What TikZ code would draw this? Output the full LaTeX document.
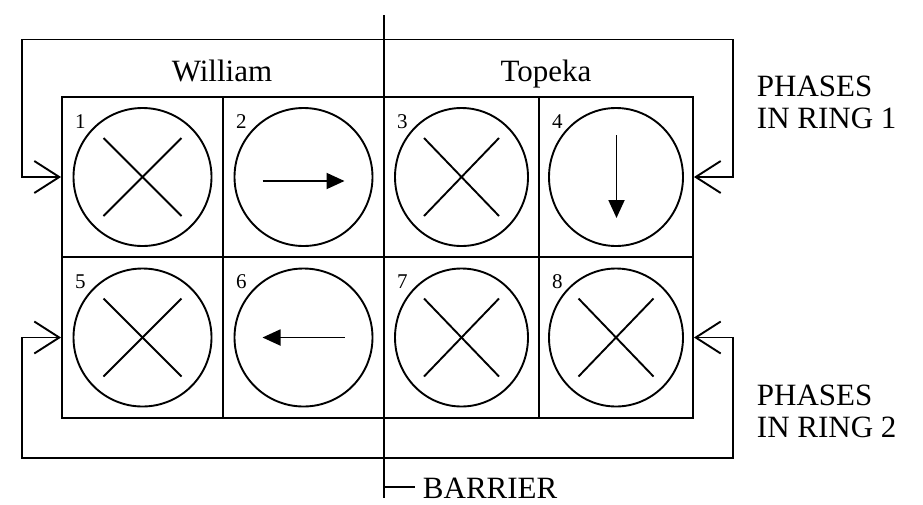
\documentclass[tikz,border=0pt]{standalone}
\usepackage{fontspec}
\setmainfont{Liberation Serif}
\usetikzlibrary{arrows.meta,calc,shapes.geometric}
\begin{document}
\begin{tikzpicture}[x=1pt,y=-1pt, line width=1.9pt,
  cell/.style={draw, rectangle, inner sep=0pt},
  lamp/.style={draw, ellipse, inner sep=0pt},
  num/.style={anchor=base west, inner sep=0pt, font=\fontsize{21}{21}\selectfont},
  lbl/.style={font=\fontsize{31}{31.6}\selectfont, inner sep=0pt},
  ring/.style={{Straight Barb[length=25pt,width=32pt]}-{Straight Barb[length=25pt,width=32pt]}},
  flow/.style={-{Triangle[length=18pt,width=16pt]}},
]
\useasboundingbox[fill=white] (0,0) rectangle (923,504);
% cells
\node[cell, minimum width=161pt, minimum height=160pt] (c1) at (142.5,177) {};
\node[cell, minimum width=161pt, minimum height=160pt] (c2) at (303.5,177) {};
\node[cell, minimum width=155pt, minimum height=160pt] (c3) at (461.5,177) {};
\node[cell, minimum width=154pt, minimum height=160pt] (c4) at (616,177) {};
\node[cell, minimum width=161pt, minimum height=161pt] (c5) at (142.5,337.5) {};
\node[cell, minimum width=161pt, minimum height=161pt] (c6) at (303.5,337.5) {};
\node[cell, minimum width=155pt, minimum height=161pt] (c7) at (461.5,337.5) {};
\node[cell, minimum width=154pt, minimum height=161pt] (c8) at (616,337.5) {};
% lamps
\foreach \n/\w in {1/138,2/138,3/133,4/134,5/138,6/138,7/133,8/134}
  \node[lamp, minimum width=\w pt, minimum height=138pt] (l\n) at (c\n.center) {};
% crosses
\foreach \n/\h in {1/39,3/37.5,5/39,7/37.5,8/37.5} {
  \draw ([shift={(-\h,-39)}]l\n.center) -- ([shift={(\h,39)}]l\n.center);
  \draw ([shift={(-\h,39)}]l\n.center) -- ([shift={(\h,-39)}]l\n.center);
}
% movement arrows
\draw[flow] ([shift={(-41,4)}]l2.center) -- ([shift={(41,4)}]l2.center);
\draw[flow] ([shift={(41,0)}]l6.center) -- ([shift={(-41,0)}]l6.center);
\draw[flow] ([shift={(0.5,-42)}]l4.center) -- ([shift={(0.5,41)}]l4.center);
% numbers
\foreach \n in {1,...,8}
  \node[num] (n\n) at ([shift={(13,32)}]c\n.north west) {\n};
% labels
\node[lbl, anchor=base] (william) at (222,81) {William};
\node[lbl, anchor=base] (topeka) at (546,81) {Topeka};
\node[lbl, anchor=base west, align=left] (ph1) at (756,128.3) {PHASES\\IN RING 1};
\node[lbl, anchor=base west, align=left] (ph2) at (756,437) {PHASES\\IN RING 2};
% rings
\coordinate (r1l) at (22,39.5);
\coordinate (r1r) at (732.7,39.5);
\draw[ring] (c1.west) -| (r1l) -- (r1r) |- (c4.east);
\coordinate (r2l) at (22,458);
\coordinate (r2r) at (732.7,458);
\draw[ring] (c5.west) -| (r2l) -- (r2r) |- (c8.east);
% barrier
\coordinate (btop) at (384,15);
\coordinate (bbot) at (384,498);
\draw (btop) -- (bbot);
\coordinate (btick) at (384,487);
\node[lbl, anchor=base west] (barrier) at (422,498) {BARRIER};
\draw (btick) -- ($(barrier.west |- btick)+(-7,0)$);
\end{tikzpicture}
\end{document}
